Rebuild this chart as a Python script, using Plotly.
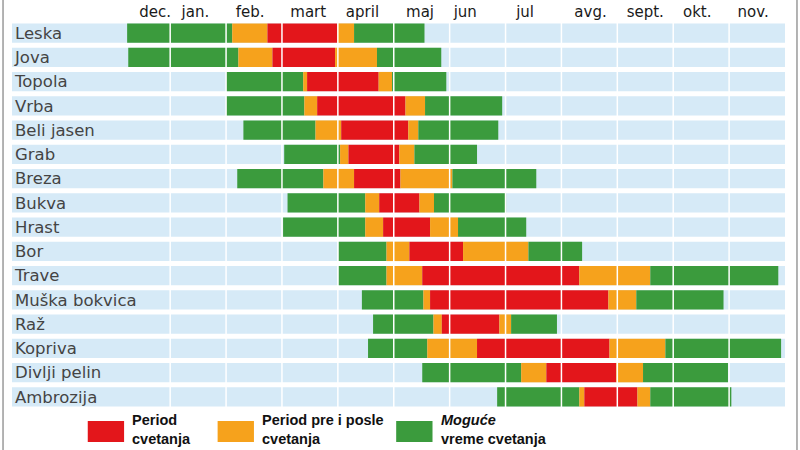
import plotly.graph_objects as go

# pollen calendar - months counted from 1 Dec (0) to 30 Nov (12)
months = ["dec.", "jan.", "feb.", "mart", "april", "maj",
          "jun", "jul", "avg.", "sept.", "okt.", "nov."]
month_label_pos = [0.73, 1.45, 2.43, 3.47, 4.44, 5.47, 6.28, 7.35, 8.52, 9.5, 10.43, 11.43]
plants = ["Leska", "Jova", "Topola", "Vrba", "Beli jasen", "Grab", "Breza", "Bukva",
          "Hrast", "Bor", "Trave", "Muška bokvica", "Raž", "Kopriva", "Divlji pelin",
          "Ambrozija"]
# edges of the five phases: possible / before / flowering / after / possible
bounds = [
    [0.23, 2.11, 2.74, 3.99, 4.29, 5.55],
    [0.25, 2.22, 2.83, 3.95, 4.70, 5.85],
    [2.00, 3.38, 3.45, 4.73, 4.97, 5.94],
    [2.00, 3.40, 3.63, 5.21, 5.56, 6.94],
    [2.31, 3.60, 4.06, 5.26, 5.44, 6.87],
    [3.04, 4.04, 4.19, 5.10, 5.37, 6.49],
    [2.20, 3.74, 4.29, 5.12, 6.05, 7.55],
    [3.10, 4.49, 4.74, 5.46, 5.72, 7.01],
    [3.02, 4.49, 4.81, 5.65, 6.15, 7.37],
    [4.01, 4.87, 5.28, 6.24, 7.41, 8.37],
    [4.01, 4.87, 5.51, 8.32, 9.59, 11.88],
    [4.43, 5.53, 5.65, 8.84, 9.34, 10.90],
    [4.63, 5.71, 5.86, 6.89, 7.10, 7.92],
    [4.54, 5.60, 6.49, 8.86, 9.86, 11.93],
    [5.51, 7.28, 7.73, 8.98, 9.46, 10.98],
    [6.85, 8.32, 8.41, 9.36, 9.59, 11.04],
]
phase_colors = ["#3b9b3d", "#f6a21c", "#e3161b", "#f6a21c", "#3b9b3d"]
legend_labels = ["<b>Period<br>cvetanja</b>", "<b>Period pre i posle<br>cvetanja</b>",
                 "<b><i>Moguće</i><br>vreme cvetanja</b>"]
legend_colors = ["#e3161b", "#f6a21c", "#3b9b3d"]

X_MIN, X_MAX = -1.83, 12
BAND = "#d6eaf7"
NARROW = "Liberation Sans Narrow, Liberation Sans, Arial, sans-serif"

fig = go.Figure()

# light blue row bands behind everything
fig.add_trace(go.Bar(
    y=plants, x=[X_MAX - X_MIN] * len(plants), base=[X_MIN] * len(plants),
    orientation="h", marker=dict(color=BAND, line_width=0),
    hoverinfo="skip", showlegend=False,
))

for k, color in enumerate(phase_colors):
    fig.add_trace(go.Bar(
        y=plants,
        x=[b[k + 1] - b[k] for b in bounds],
        base=[b[k] for b in bounds],
        orientation="h",
        marker=dict(color=color, line_width=0),
        showlegend=False,
    ))

# white month separators across the rows
for i in range(1, 12):
    fig.add_shape(type="line", x0=i, x1=i, y0=0, y1=1, xref="x", yref="paper",
                  line=dict(color="white", width=1.5), layer="above")

# custom legend below the chart
legend_x = [0.098, 0.266, 0.497]
for lab, col, lx in zip(legend_labels, legend_colors, legend_x):
    fig.add_shape(type="rect", xref="paper", yref="paper",
                  x0=lx, x1=lx + 0.047, y0=-0.085, y1=-0.031,
                  fillcolor=col, line_width=0)
    fig.add_annotation(text=lab, xref="paper", yref="paper", x=lx + 0.055, y=-0.003,
                       xanchor="left", yanchor="top", align="left", showarrow=False,
                       font=dict(family=NARROW, size=14.5, color="#111111"))

# thin grey frame at the sides
for fx in (-0.0116, 1.0155):
    fig.add_shape(type="line", xref="paper", yref="paper", x0=fx, x1=fx,
                  y0=-0.12, y1=1.07, line=dict(color="#9a9a9a", width=1.5))

fig.update_layout(
    width=800, height=450,
    margin=dict(l=12, r=15, t=21, b=41),
    paper_bgcolor="white", plot_bgcolor="white",
    barmode="overlay", bargap=0.2,
    showlegend=False,
    font=dict(family="DejaVu Sans, sans-serif", color="#1a1a1a"),
    xaxis=dict(range=[X_MIN, X_MAX], side="top", showgrid=False, zeroline=False,
               tickvals=month_label_pos, ticktext=months,
               ticks="", tickfont=dict(size=15), automargin=False, fixedrange=True),
    yaxis=dict(autorange="reversed", showgrid=False, zeroline=False,
               ticklabelposition="inside", ticks="", tickfont=dict(size=16.5),
               automargin=False, fixedrange=True),
)

# page body has a default 8px margin; drop it so the figure sits at the corner
fig.write_html("out.html", config={"displayModeBar": False},
               post_script="document.body.style.margin='0';")
